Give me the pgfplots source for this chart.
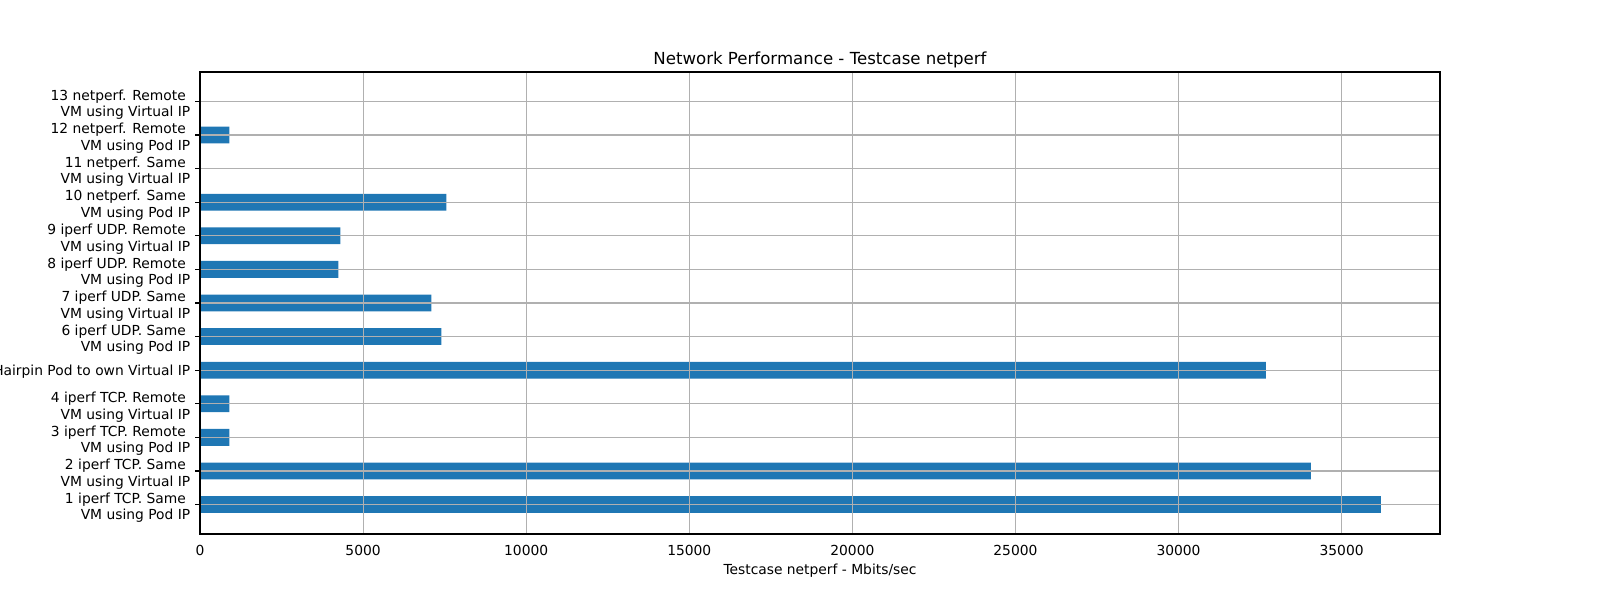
\documentclass[border=0pt]{standalone}
\usepackage{fontspec}
\setmainfont{DejaVu Sans}
\usepackage{pgfplots}
\pgfplotsset{compat=1.18}
\definecolor{mplblue}{HTML}{1F77B4}
\definecolor{mplgrid}{HTML}{B0B0B0}
\begin{document}
\begin{tikzpicture}[x=1in,y=1in]
\path[use as bounding box] (0,0) rectangle (16,6);
\begin{axis}[
  at={(2in,0.66in)}, anchor=south west,
  scale only axis, width=12.4in, height=4.62in,
  xbar, bar width=0.5,
  xmin=0, xmax=38016,
  ymin=-0.875, ymax=12.875,
  ytick={0,1,2,3,4,5,6,7,8,9,10,11,12},
  yticklabels={
    {1 iperf TCP. Same\kern0.32em\\VM using Pod IP},
    {2 iperf TCP. Same\kern0.32em\\VM using Virtual IP},
    {3 iperf TCP. Remote\kern0.32em\\VM using Pod IP},
    {4 iperf TCP. Remote\kern0.32em\\VM using Virtual IP},
    {\raisebox{4.6pt}{5 Hairpin Pod to own Virtual IP}},
    {6 iperf UDP. Same\kern0.32em\\VM using Pod IP},
    {7 iperf UDP. Same\kern0.32em\\VM using Virtual IP},
    {8 iperf UDP. Remote\kern0.32em\\VM using Pod IP},
    {9 iperf UDP. Remote\kern0.32em\\VM using Virtual IP},
    {10 netperf. Same\kern0.32em\\VM using Pod IP},
    {11 netperf. Same\kern0.32em\\VM using Virtual IP},
    {12 netperf. Remote\kern0.32em\\VM using Pod IP},
    {13 netperf. Remote\kern0.32em\\VM using Virtual IP}},
  xtick={0,5000,10000,15000,20000,25000,30000,35000},
  scaled x ticks=false,
  /pgf/number format/1000 sep={},
  /pgf/number format/assume math mode=true,
  tick align=outside,
  ytick pos=left,
  xtick pos=bottom,
  major tick length=3.5pt,
  xtick style={draw=none},
  ytick style={black, line width=0.8pt},
  ticklabel style={font=\fontsize{10}{12}\selectfont},
  yticklabel style={align=right, anchor=east, yshift=-2.3pt},
  xticklabel style={anchor=base, yshift=-12.2pt},
  grid=major,
  major grid style={mplgrid, line width=0.8pt},
  axis on top,
  axis line style={black, line width=0.8pt},
  title={Network Performance - Testcase netperf},
  every axis title/.style={font=\fontsize{12}{14}\selectfont, at={(axis description cs:0.5,1)}, anchor=base, yshift=5.4pt},
  xlabel={Testcase netperf - Mbits/sec},
  xlabel style={font=\fontsize{10}{12}\selectfont, at={(axis description cs:0.5,0)}, anchor=base, yshift=-29.4pt},
]
\addplot[fill=mplblue, draw=none] coordinates {
  (36206,0) (34058,1) (900,2) (900,3) (32678,4) (7402,5) (7096,6)
  (4243,7) (4304,8) (7555,9) (0,10) (899,11) (0,12)
};
\end{axis}
\end{tikzpicture}
\end{document}
